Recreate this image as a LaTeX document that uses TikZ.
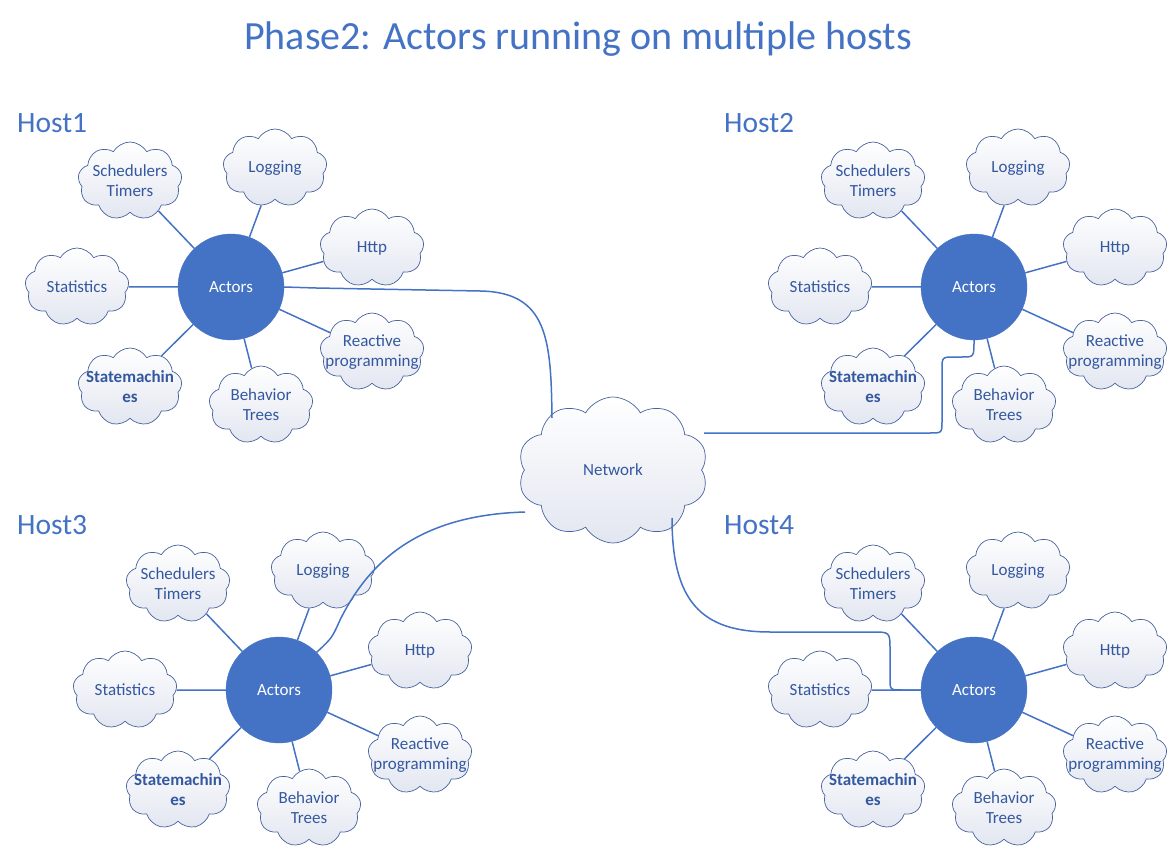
\documentclass[tikz,border=0pt]{standalone}
\usepackage{fontspec}
\setmainfont{Carlito}
\usetikzlibrary{shapes.symbols}
\definecolor{hblue}{RGB}{68,114,196}
\definecolor{ctext}{RGB}{52,88,160}
\definecolor{cline}{RGB}{72,98,158}
\definecolor{cshade}{RGB}{226,230,240}
\tikzset{
  actor/.style={circle,fill=hblue,draw=hblue,minimum size=106pt,inner sep=0pt,text=white,font=\fontsize{17}{20}\selectfont},
  cl/.style={cloud,cloud puffs=9,cloud puff arc=120,cloud ignores aspect,draw=cline,line width=0.7pt,
    top color=white,bottom color=cshade,minimum width=104pt,minimum height=78pt,inner xsep=-40pt,inner ysep=-25pt,
    text=ctext,align=center,font=\fontsize{17}{20}\selectfont},
  conn/.style={draw=hblue,line width=1.5pt},
  hostlabel/.style={anchor=base west,text=hblue,font=\fontsize{29.5}{34}\selectfont,inner sep=0pt},
}
\newcommand\hostgroup[3]{%
\begin{scope}[shift={(#2,#3)}]
\node[actor] (#1a) at (0,0) {Actors};
\node[cl] (#1sch) at (-101,-106) {Schedulers\\Timers};
\node[cl] (#1log) at (44,-119) {Logging};
\node[cl] (#1htt) at (141,-39) {Http};
\node[cl] (#1sta) at (-154,0) {Statistics};
\node[cl] (#1rea) at (141,65) {Reactive\\programming};
\node[cl] (#1stm) at (-101,100) {\textbf{Statemachin}\\\textbf{es}};
\node[cl] (#1beh) at (30,118) {Behavior\\Trees};
\end{scope}
\foreach \t in {sch,log,htt,sta,rea,stm,beh} \draw[conn] (#1a) -- (#1\t);
}
\begin{document}
\begin{tikzpicture}[x=1pt,y=-1pt]
\useasboundingbox (0,0) rectangle (1170,850);
\node[anchor=base,text=hblue,font=\fontsize{40}{46}\selectfont,inner sep=0pt] (title) at (578,50) {Phase2: Actors running on multiple hosts};
\node[hostlabel] (l1) at (17,133) {Host1};
\node[hostlabel] (l2) at (724,133) {Host2};
\node[hostlabel] (l3) at (17,534) {Host3};
\node[hostlabel] (l4) at (724,534) {Host4};
\hostgroup{h1}{231}{287}
\hostgroup{h2}{974}{287}
\hostgroup{h3}{279}{690}
\hostgroup{h4}{974}{690}
\node[cl,cloud puffs=10,minimum width=190pt,minimum height=146pt] (net) at (613,470) {Network};
\coordinate (n1) at (552,418);
\coordinate (n2) at (704,433);
\coordinate (n3) at (525,512);
\coordinate (n4) at (672,518);
\draw[conn] (h1a.east) -- (316,288) -- (480,291) .. controls (548,292) and (551,340) .. (n1);
\draw[conn] (n2) -- (930,433) .. controls (942,433) .. (942,421) -- (942,370) .. controls (942,357) .. (955,357) -- (962,357) .. controls (974,357) .. (h2a.south);
\draw[conn] (n3) .. controls (420,515) and (370,560) .. (340,620) .. controls (332,638) .. (h3a.45);
\draw[conn] (n4) .. controls (672,600) and (700,632) .. (770,632) -- (872,632) .. controls (890,632) .. (890,650) -- (890,678) .. controls (890,690) .. (902,690) -- (h4a.west);
\end{tikzpicture}
\end{document}
